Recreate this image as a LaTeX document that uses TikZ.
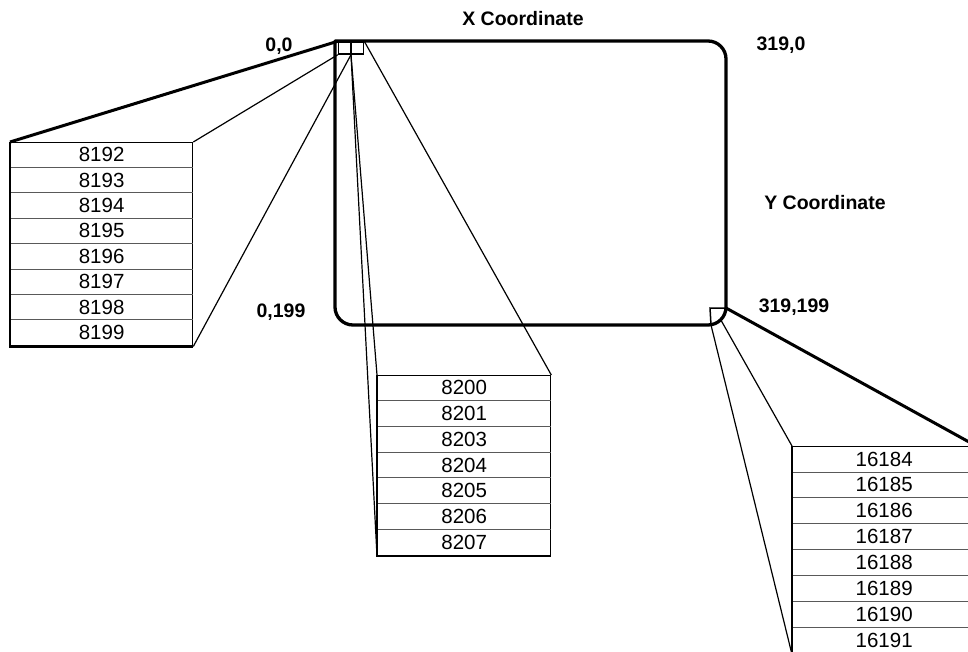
\documentclass[tikz,border=0pt]{standalone}
\usepackage{fontspec}
\setmainfont{Liberation Sans}
\usetikzlibrary{calc}
\tikzset{
  lbl/.style={font=\bfseries\fontsize{19.5}{22}\selectfont, inner sep=0pt},
  num/.style={font=\fontsize{20.5}{24}\selectfont, inner sep=0pt},
  boxo/.style={draw, line width=1.3pt, inner sep=0pt, anchor=north west},
  sepl/.style={line width=0.8pt, black!65},
  ledge/.style={line width=2.2pt},
  fanthick/.style={line width=3pt},
  fanthin/.style={line width=1.2pt},
  screen/.style={line width=3.3pt, line join=round},
  cell/.style={draw, line width=1.5pt, inner sep=0pt, minimum width=25pt, minimum height=12pt},
}
\begin{document}
\begin{tikzpicture}[x=1pt,y=-1pt]
\useasboundingbox (0,0) rectangle (968,652);

% screen outline
\coordinate (sTL) at (335,41);
\coordinate (sTR) at (726,41);
\coordinate (sBR) at (726,325);
\coordinate (sBL) at (335,325);
\draw[screen] (sTL) [rounded corners=18pt] -- (sTR) -- (sBR) -- (sBL) [sharp corners] -- cycle;

% top-left byte cell
\node[cell, fill=white] (c0) at (351,48) {};
\draw[line width=1.3pt] (c0.north) -- (c0.south);

% bottom-right byte cell
\coordinate (c1top) at (710,308);
\coordinate (c1tr) at (726,308);
\coordinate (c1arc) at (720.7,319.7);
\coordinate (c1bot) at (711,325);
\draw[line width=1.5pt] (c1tr) -- (c1top) -- (c1bot);

% left box
\node[boxo, minimum width=182pt, minimum height=203.2pt] (lb) at (10,142) {};
\foreach \t [count=\i] in {8192,8193,8194,8195,8196,8197,8198,8199}
  \node[num] (lb\i) at ($(lb.north)+(0,{(\i-0.5)*25.4})$) {\t};
\foreach \i in {1,...,7}
  \draw[sepl] ($(lb.north west)+(0,{\i*25.4})$) -- ($(lb.north east)+(0,{\i*25.4})$);
\draw[ledge] (lb.north west) -- (lb.south west) -- (lb.south east);

% middle box
\node[boxo, minimum width=173pt, minimum height=179.9pt] (mb) at (377,375) {};
\foreach \t [count=\i] in {8200,8201,8203,8204,8205,8206,8207}
  \node[num] (mb\i) at ($(mb.north)+(0,{(\i-0.5)*25.7})$) {\t};
\foreach \i in {1,...,6}
  \draw[sepl] ($(mb.north west)+(0,{\i*25.7})$) -- ($(mb.north east)+(0,{\i*25.7})$);
\draw[ledge] (mb.north west) -- (mb.south west) -- (mb.south east);

% right box
\node[boxo, minimum width=183pt, minimum height=207.2pt] (rb) at (792,446) {};
\foreach \t [count=\i] in {16184,16185,16186,16187,16188,16189,16190,16191}
  \node[num] (rb\i) at ($(rb.north)+(0,{(\i-0.5)*25.9})$) {\t};
\foreach \i in {1,...,7}
  \draw[sepl] ($(rb.north west)+(0,{\i*25.9})$) -- ($(rb.north east)+(0,{\i*25.9})$);
\draw[ledge] (rb.north west) -- (rb.south west);

% fans: left
\draw[fanthick] (lb.north west) -- (c0.north west);
\draw[fanthin] (lb.north east) -- (c0.south west);
\draw[fanthin] (lb.south east) -- (c0.south);

% fans: middle
\draw[fanthin] (c0.south) -- (mb.north west);
\draw[fanthin] (c0.south) -- (mb.south west);
\draw[fanthin] (c0.north east) -- (mb.north east);

% fans: right
\draw[fanthick] (c1tr) -- (rb.north east);
\draw[fanthin] (c1arc) -- (rb.north west);
\draw[fanthin] (c1bot) -- (rb.south west);

% labels
\node[lbl] (xc) at (523,19) {X Coordinate};
\node[lbl] (p00) at (279,46) {0,0};
\node[lbl] (p3190) at (781,45) {319,0};
\node[lbl] (yc) at (825,203) {Y Coordinate};
\node[lbl] (p0199) at (281,312) {0,199};
\node[lbl] (p319199) at (794,307) {319,199};
\end{tikzpicture}
\end{document}
